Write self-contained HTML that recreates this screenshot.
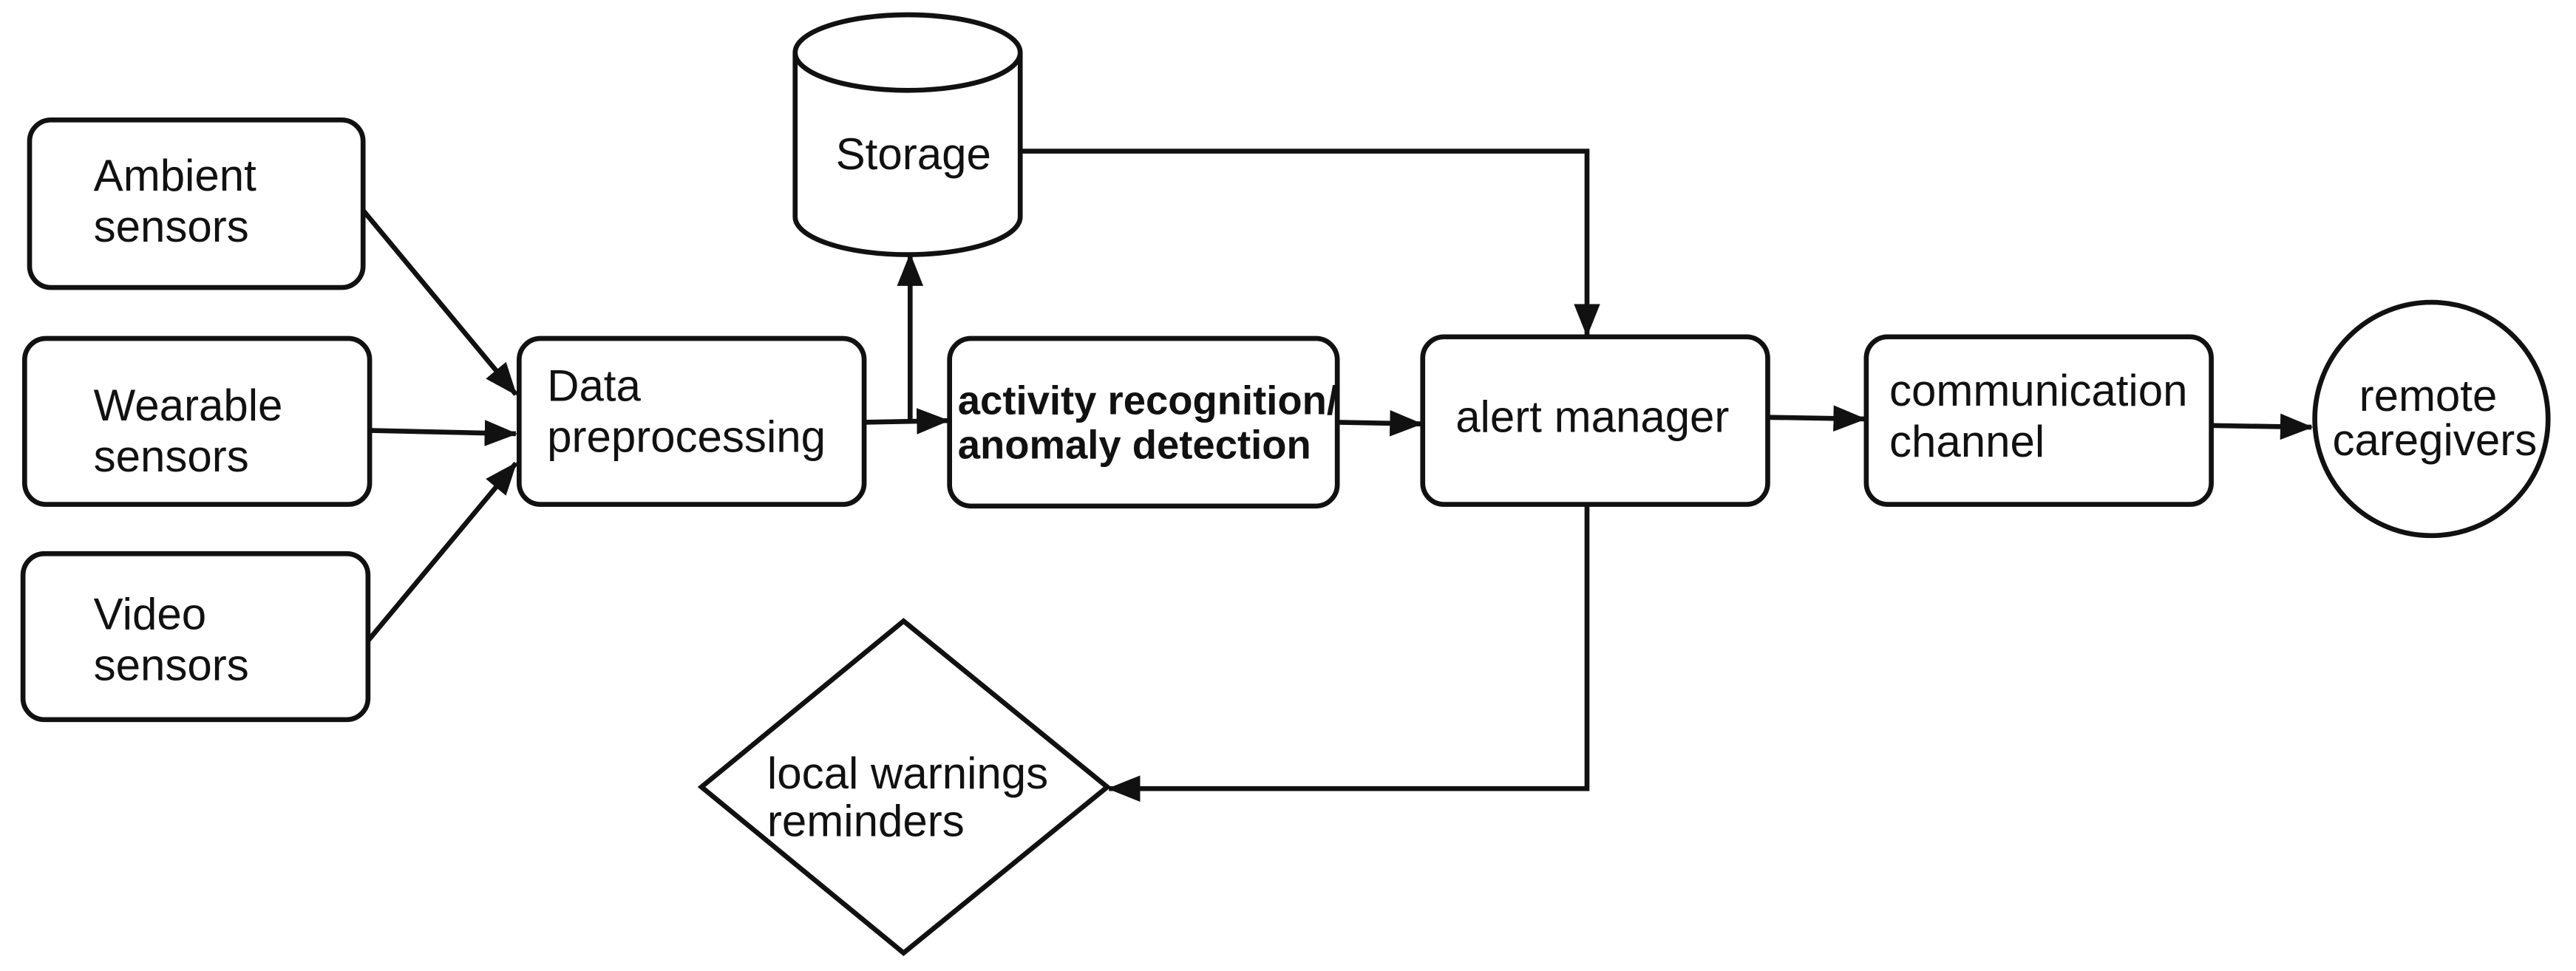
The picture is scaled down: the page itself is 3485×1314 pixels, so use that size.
<!DOCTYPE html>
<html><head><meta charset="utf-8"><style>
html,body{margin:0;padding:0;background:#fff;}
svg{display:block;}
text{font-family:"Liberation Sans",sans-serif;font-size:27px;fill:#111;}
</style></head><body>
<svg width="3485" height="1314" viewBox="0 0 1568 591" preserveAspectRatio="none" xmlns="http://www.w3.org/2000/svg">
<defs>
<marker id="a" markerWidth="20" markerHeight="16" refX="19" refY="8" orient="auto" markerUnits="userSpaceOnUse">
<path d="M0,0 L20,8 L0,16 z" fill="#111"/>
</marker>
</defs>
<g fill="#fff" stroke="#111" stroke-width="3">
<rect x="18" y="73" width="203" height="102" rx="13"/>
<rect x="15" y="206" width="210" height="101" rx="13"/>
<rect x="14" y="337" width="210" height="101" rx="13"/>
<rect x="316" y="206" width="210" height="101" rx="13"/>
<rect x="578" y="206" width="236" height="102" rx="13"/>
<rect x="866" y="205" width="210" height="102" rx="13"/>
<rect x="1136" y="205" width="210" height="102" rx="13"/>
<circle cx="1480" cy="255" r="71"/>
<path d="M427,479 L550,378 L674,479 L550,580 z"/>
<path d="M484,32 L484,132 A68.5,23 0 0 0 621,132 L621,32"/>
<ellipse cx="552.5" cy="32" rx="68.5" ry="23"/>
</g>
<g fill="none" stroke="#111" stroke-width="3">
<line x1="221" y1="128" x2="314" y2="240" marker-end="url(#a)"/>
<line x1="225" y1="262" x2="314" y2="264" marker-end="url(#a)"/>
<line x1="224" y1="390" x2="314" y2="282" marker-end="url(#a)"/>
<line x1="526" y1="257" x2="577" y2="256" marker-end="url(#a)"/>
<line x1="554" y1="257" x2="554" y2="155" marker-end="url(#a)"/>
<polyline points="621,92 966,92 966,204" marker-end="url(#a)"/>
<line x1="814" y1="257" x2="865" y2="258" marker-end="url(#a)"/>
<line x1="1076" y1="254" x2="1135" y2="255" marker-end="url(#a)"/>
<line x1="1346" y1="259" x2="1407" y2="260" marker-end="url(#a)"/>
<polyline points="966,307 966,480 675,480" marker-end="url(#a)"/>
</g>
<text x="57" y="116">Ambient</text>
<text x="57" y="147">sensors</text>
<text x="57" y="256">Wearable</text>
<text x="57" y="287">sensors</text>
<text x="57" y="383">Video</text>
<text x="57" y="414">sensors</text>
<text x="333" y="244">Data</text>
<text x="333" y="275">preprocessing</text>
<text x="556" y="103" text-anchor="middle">Storage</text>
<text x="583" y="252" style="font-weight:bold;font-size:24.5px">activity recognition/</text>
<text x="583" y="279" style="font-weight:bold;font-size:24.5px">anomaly detection</text>
<text x="886" y="263">alert manager</text>
<text x="1150" y="247">communication</text>
<text x="1150" y="278">channel</text>
<text x="1478" y="250" text-anchor="middle">remote</text>
<text x="1482" y="277" text-anchor="middle">caregivers</text>
<text x="467" y="480">local warnings</text>
<text x="467" y="509">reminders</text>
</svg>
</body></html>
